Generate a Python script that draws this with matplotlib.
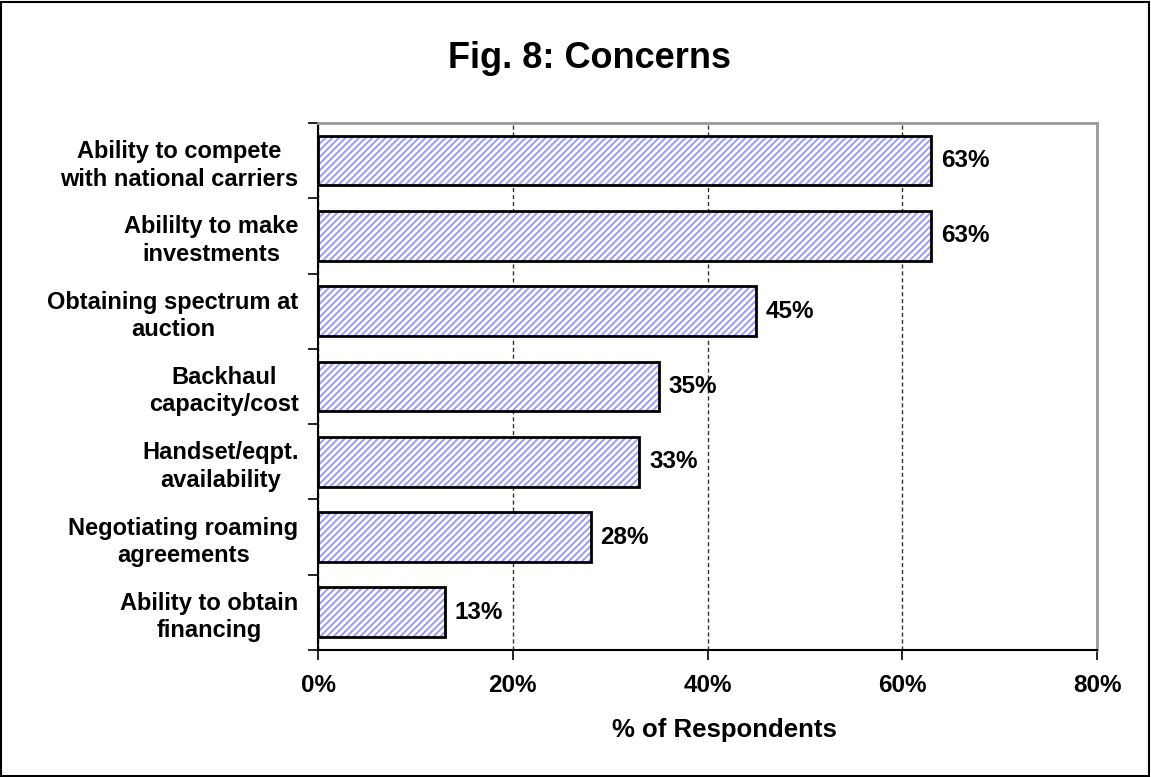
import numpy as np
import matplotlib.pyplot as plt
from matplotlib.patches import Rectangle

# Data (top to bottom)
categories = ["Ability to compete\nwith national carriers",
              "Abililty to make\ninvestments",
              "Obtaining spectrum at\nauction",
              "Backhaul\ncapacity/cost",
              "Handset/eqpt.\navailability",
              "Negotiating roaming\nagreements",
              "Ability to obtain\nfinancing"]
values = [63, 63, 45, 35, 33, 28, 13]
xticks = [0, 20, 40, 60, 80]

plt.rcParams['font.family'] = ['Liberation Sans', 'DejaVu Sans']
plt.rcParams['font.weight'] = 'bold'
plt.rcParams['hatch.linewidth'] = 2.0
plt.rcParams['hatch.color'] = 'white'

fig = plt.figure(figsize=(11.51, 7.77), dpi=100)
ax = fig.add_axes([0.2763, 0.1635, 0.6768, 0.6782])

ypos = np.arange(len(categories))
# hatched fill, then black outline on top
ax.barh(ypos, values, height=0.66, color='#9999ff', edgecolor='white',
        hatch='/////', linewidth=0, zorder=2)
ax.barh(ypos, values, height=0.66, fill=False, edgecolor='black',
        linewidth=2, zorder=3)

for y, v in zip(ypos, values):
    ax.text(v + 1.0, y, "%d%%" % v, va='center', ha='left',
            fontsize=17.5, fontweight='bold', zorder=4)

ax.set_xlim(0, 80)
ax.set_ylim(len(categories) - 0.5, -0.5)
ax.set_xticks(xticks)
ax.set_xticklabels(["%d%%" % t for t in xticks], fontsize=17.5, fontweight='bold')
ax.set_yticks(ypos)
ax.set_yticklabels(categories, fontsize=17, fontweight='bold', multialignment='center',
                   linespacing=1.25)
ax.tick_params(axis='y', length=0, pad=14)
ax.set_yticks(np.arange(len(categories) + 1) - 0.5, minor=True)
ax.tick_params(axis='y', which='minor', length=7, width=1.2, direction='out')
ax.tick_params(axis='x', length=7, width=1.2, direction='out', pad=10)

ax.grid(axis='x', linestyle=(0, (3, 2)), color='#333333', linewidth=1, zorder=1)
ax.set_axisbelow(True)

for s in ['top', 'right']:
    ax.spines[s].set_color('#999999')
    ax.spines[s].set_linewidth(2)
for s in ['left', 'bottom']:
    ax.spines[s].set_color('black')
    ax.spines[s].set_linewidth(1.5)

ax.set_xlabel("% of Respondents", fontsize=18.5, fontweight='bold', labelpad=16)
ax.xaxis.set_label_coords(0.522, -0.13)
fig.text(0.512, 0.925, "Fig. 8: Concerns", ha='center', va='center',
         fontsize=26, fontweight='bold')

# outer frame around the whole chart
fig.patches.append(Rectangle((0.001, 0.001), 0.997, 0.997, transform=fig.transFigure,
                             fill=False, edgecolor='black', linewidth=1.5))

fig.savefig("out.png", dpi=100)
